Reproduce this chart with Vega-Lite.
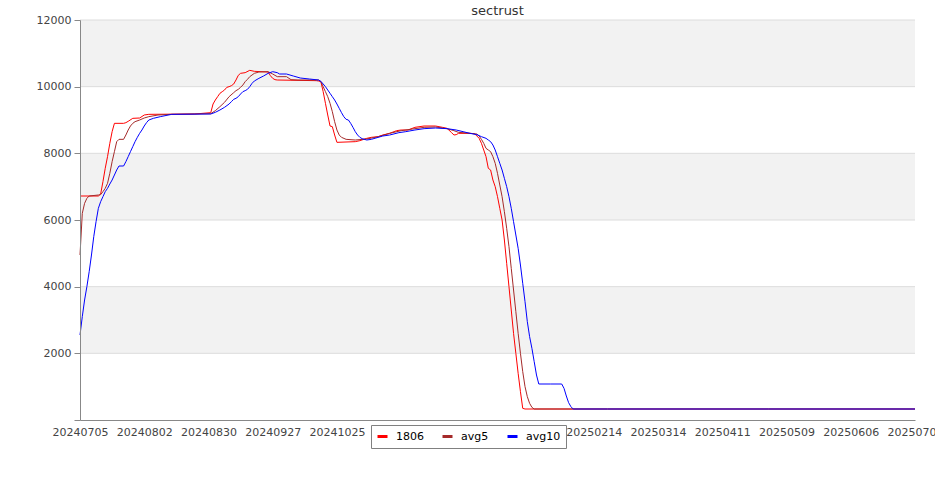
{
  "$schema": "https://vega.github.io/schema/vega-lite/v6.json",
  "width": 835,
  "height": 400,
  "autosize": {"type": "none"},
  "padding": {"left": 80, "top": 20, "right": 20, "bottom": 80},
  "background": "#ffffff",
  "title": {"text": "sectrust", "font": "DejaVu Sans", "fontSize": 13, "fontWeight": "normal", "color": "#333333", "offset": -4},
  "config": {"view": {"stroke": null}, "font": "DejaVu Sans"},
  "datasets": {
    "bands": [{"lo": 2000, "hi": 4000}, {"lo": 6000, "hi": 8000}, {"lo": 10000, "hi": 12000}],
    "grid": [{"v": 2000}, {"v": 4000}, {"v": 6000}, {"v": 8000}, {"v": 10000}, {"v": 12000}],
    "counts": [
      {"date": "2024-07-05", "series": "1806", "value": 6720},
      {"date": "2024-07-13", "series": "1806", "value": 6720},
      {"date": "2024-07-14", "series": "1806", "value": 6780},
      {"date": "2024-07-15", "series": "1806", "value": 7150},
      {"date": "2024-07-16", "series": "1806", "value": 7550},
      {"date": "2024-07-17", "series": "1806", "value": 7900},
      {"date": "2024-07-18", "series": "1806", "value": 8300},
      {"date": "2024-07-19", "series": "1806", "value": 8650},
      {"date": "2024-07-20", "series": "1806", "value": 8900},
      {"date": "2024-07-24", "series": "1806", "value": 8900},
      {"date": "2024-07-25", "series": "1806", "value": 8920},
      {"date": "2024-07-26", "series": "1806", "value": 8960},
      {"date": "2024-07-28", "series": "1806", "value": 9050},
      {"date": "2024-07-31", "series": "1806", "value": 9060},
      {"date": "2024-08-02", "series": "1806", "value": 9150},
      {"date": "2024-08-04", "series": "1806", "value": 9170},
      {"date": "2024-08-24", "series": "1806", "value": 9180},
      {"date": "2024-08-31", "series": "1806", "value": 9220},
      {"date": "2024-09-01", "series": "1806", "value": 9480},
      {"date": "2024-09-02", "series": "1806", "value": 9600},
      {"date": "2024-09-03", "series": "1806", "value": 9700},
      {"date": "2024-09-04", "series": "1806", "value": 9800},
      {"date": "2024-09-05", "series": "1806", "value": 9850},
      {"date": "2024-09-06", "series": "1806", "value": 9900},
      {"date": "2024-09-07", "series": "1806", "value": 9980},
      {"date": "2024-09-08", "series": "1806", "value": 10000},
      {"date": "2024-09-09", "series": "1806", "value": 10030},
      {"date": "2024-09-10", "series": "1806", "value": 10080},
      {"date": "2024-09-11", "series": "1806", "value": 10200},
      {"date": "2024-09-12", "series": "1806", "value": 10340},
      {"date": "2024-09-13", "series": "1806", "value": 10400},
      {"date": "2024-09-15", "series": "1806", "value": 10420},
      {"date": "2024-09-17", "series": "1806", "value": 10490},
      {"date": "2024-09-19", "series": "1806", "value": 10460},
      {"date": "2024-09-25", "series": "1806", "value": 10440},
      {"date": "2024-09-26", "series": "1806", "value": 10330},
      {"date": "2024-09-27", "series": "1806", "value": 10250},
      {"date": "2024-09-28", "series": "1806", "value": 10210},
      {"date": "2024-09-29", "series": "1806", "value": 10200},
      {"date": "2024-10-16", "series": "1806", "value": 10180},
      {"date": "2024-10-17", "series": "1806", "value": 10170},
      {"date": "2024-10-18", "series": "1806", "value": 10150},
      {"date": "2024-10-19", "series": "1806", "value": 9850},
      {"date": "2024-10-20", "series": "1806", "value": 9500},
      {"date": "2024-10-21", "series": "1806", "value": 9150},
      {"date": "2024-10-22", "series": "1806", "value": 8820},
      {"date": "2024-10-23", "series": "1806", "value": 8800},
      {"date": "2024-10-24", "series": "1806", "value": 8550},
      {"date": "2024-10-25", "series": "1806", "value": 8330},
      {"date": "2024-11-02", "series": "1806", "value": 8350},
      {"date": "2024-11-04", "series": "1806", "value": 8380},
      {"date": "2024-11-07", "series": "1806", "value": 8450},
      {"date": "2024-11-09", "series": "1806", "value": 8480},
      {"date": "2024-11-12", "series": "1806", "value": 8500},
      {"date": "2024-11-14", "series": "1806", "value": 8550},
      {"date": "2024-11-17", "series": "1806", "value": 8600},
      {"date": "2024-11-20", "series": "1806", "value": 8680},
      {"date": "2024-11-22", "series": "1806", "value": 8700},
      {"date": "2024-11-25", "series": "1806", "value": 8700},
      {"date": "2024-11-28", "series": "1806", "value": 8780},
      {"date": "2024-12-02", "series": "1806", "value": 8820},
      {"date": "2024-12-07", "series": "1806", "value": 8820},
      {"date": "2024-12-10", "series": "1806", "value": 8780},
      {"date": "2024-12-12", "series": "1806", "value": 8750},
      {"date": "2024-12-14", "series": "1806", "value": 8620},
      {"date": "2024-12-15", "series": "1806", "value": 8550},
      {"date": "2024-12-16", "series": "1806", "value": 8560},
      {"date": "2024-12-17", "series": "1806", "value": 8600},
      {"date": "2024-12-22", "series": "1806", "value": 8600},
      {"date": "2024-12-24", "series": "1806", "value": 8590},
      {"date": "2024-12-26", "series": "1806", "value": 8450},
      {"date": "2024-12-27", "series": "1806", "value": 8300},
      {"date": "2024-12-28", "series": "1806", "value": 8100},
      {"date": "2024-12-29", "series": "1806", "value": 7900},
      {"date": "2024-12-30", "series": "1806", "value": 7550},
      {"date": "2024-12-31", "series": "1806", "value": 7500},
      {"date": "2025-01-01", "series": "1806", "value": 7200},
      {"date": "2025-01-02", "series": "1806", "value": 7000},
      {"date": "2025-01-03", "series": "1806", "value": 6700},
      {"date": "2025-01-04", "series": "1806", "value": 6350},
      {"date": "2025-01-05", "series": "1806", "value": 6000},
      {"date": "2025-01-06", "series": "1806", "value": 5400},
      {"date": "2025-01-07", "series": "1806", "value": 4700},
      {"date": "2025-01-08", "series": "1806", "value": 4000},
      {"date": "2025-01-09", "series": "1806", "value": 3300},
      {"date": "2025-01-10", "series": "1806", "value": 2600},
      {"date": "2025-01-11", "series": "1806", "value": 2000},
      {"date": "2025-01-12", "series": "1806", "value": 1400},
      {"date": "2025-01-13", "series": "1806", "value": 850},
      {"date": "2025-01-14", "series": "1806", "value": 350},
      {"date": "2025-01-15", "series": "1806", "value": 330},
      {"date": "2025-02-20", "series": "1806", "value": 330},
      {"date": "2025-05-01", "series": "1806", "value": 330},
      {"date": "2025-07-04", "series": "1806", "value": 330},

      {"date": "2024-07-05", "series": "avg5", "value": 4950},
      {"date": "2024-07-06", "series": "avg5", "value": 6200},
      {"date": "2024-07-07", "series": "avg5", "value": 6500},
      {"date": "2024-07-08", "series": "avg5", "value": 6650},
      {"date": "2024-07-09", "series": "avg5", "value": 6720},
      {"date": "2024-07-13", "series": "avg5", "value": 6750},
      {"date": "2024-07-14", "series": "avg5", "value": 6760},
      {"date": "2024-07-15", "series": "avg5", "value": 6850},
      {"date": "2024-07-16", "series": "avg5", "value": 6950},
      {"date": "2024-07-17", "series": "avg5", "value": 7100},
      {"date": "2024-07-18", "series": "avg5", "value": 7400},
      {"date": "2024-07-19", "series": "avg5", "value": 7750},
      {"date": "2024-07-20", "series": "avg5", "value": 8050},
      {"date": "2024-07-21", "series": "avg5", "value": 8350},
      {"date": "2024-07-22", "series": "avg5", "value": 8420},
      {"date": "2024-07-24", "series": "avg5", "value": 8420},
      {"date": "2024-07-25", "series": "avg5", "value": 8550},
      {"date": "2024-07-26", "series": "avg5", "value": 8700},
      {"date": "2024-07-27", "series": "avg5", "value": 8820},
      {"date": "2024-07-28", "series": "avg5", "value": 8900},
      {"date": "2024-07-29", "series": "avg5", "value": 8950},
      {"date": "2024-07-31", "series": "avg5", "value": 9000},
      {"date": "2024-08-02", "series": "avg5", "value": 9060},
      {"date": "2024-08-04", "series": "avg5", "value": 9100},
      {"date": "2024-08-08", "series": "avg5", "value": 9150},
      {"date": "2024-08-14", "series": "avg5", "value": 9170},
      {"date": "2024-08-31", "series": "avg5", "value": 9190},
      {"date": "2024-09-02", "series": "avg5", "value": 9280},
      {"date": "2024-09-04", "series": "avg5", "value": 9400},
      {"date": "2024-09-06", "series": "avg5", "value": 9530},
      {"date": "2024-09-08", "series": "avg5", "value": 9700},
      {"date": "2024-09-10", "series": "avg5", "value": 9820},
      {"date": "2024-09-11", "series": "avg5", "value": 9880},
      {"date": "2024-09-12", "series": "avg5", "value": 9920},
      {"date": "2024-09-13", "series": "avg5", "value": 9980},
      {"date": "2024-09-14", "series": "avg5", "value": 10050},
      {"date": "2024-09-15", "series": "avg5", "value": 10150},
      {"date": "2024-09-16", "series": "avg5", "value": 10220},
      {"date": "2024-09-17", "series": "avg5", "value": 10300},
      {"date": "2024-09-19", "series": "avg5", "value": 10400},
      {"date": "2024-09-21", "series": "avg5", "value": 10440},
      {"date": "2024-09-25", "series": "avg5", "value": 10450},
      {"date": "2024-09-27", "series": "avg5", "value": 10380},
      {"date": "2024-09-29", "series": "avg5", "value": 10300},
      {"date": "2024-10-03", "series": "avg5", "value": 10300},
      {"date": "2024-10-05", "series": "avg5", "value": 10210},
      {"date": "2024-10-08", "series": "avg5", "value": 10200},
      {"date": "2024-10-17", "series": "avg5", "value": 10200},
      {"date": "2024-10-18", "series": "avg5", "value": 10150},
      {"date": "2024-10-19", "series": "avg5", "value": 10000},
      {"date": "2024-10-20", "series": "avg5", "value": 9850},
      {"date": "2024-10-21", "series": "avg5", "value": 9700},
      {"date": "2024-10-22", "series": "avg5", "value": 9500},
      {"date": "2024-10-23", "series": "avg5", "value": 9250},
      {"date": "2024-10-24", "series": "avg5", "value": 8950},
      {"date": "2024-10-25", "series": "avg5", "value": 8700},
      {"date": "2024-10-26", "series": "avg5", "value": 8550},
      {"date": "2024-10-27", "series": "avg5", "value": 8480},
      {"date": "2024-10-29", "series": "avg5", "value": 8420},
      {"date": "2024-11-02", "series": "avg5", "value": 8400},
      {"date": "2024-11-07", "series": "avg5", "value": 8430},
      {"date": "2024-11-12", "series": "avg5", "value": 8500},
      {"date": "2024-11-17", "series": "avg5", "value": 8600},
      {"date": "2024-11-22", "series": "avg5", "value": 8680},
      {"date": "2024-11-27", "series": "avg5", "value": 8730},
      {"date": "2024-12-02", "series": "avg5", "value": 8780},
      {"date": "2024-12-07", "series": "avg5", "value": 8790},
      {"date": "2024-12-12", "series": "avg5", "value": 8740},
      {"date": "2024-12-15", "series": "avg5", "value": 8680},
      {"date": "2024-12-17", "series": "avg5", "value": 8630},
      {"date": "2024-12-22", "series": "avg5", "value": 8600},
      {"date": "2024-12-25", "series": "avg5", "value": 8580},
      {"date": "2024-12-26", "series": "avg5", "value": 8520},
      {"date": "2024-12-27", "series": "avg5", "value": 8420},
      {"date": "2024-12-28", "series": "avg5", "value": 8300},
      {"date": "2024-12-29", "series": "avg5", "value": 8150},
      {"date": "2024-12-30", "series": "avg5", "value": 8100},
      {"date": "2024-12-31", "series": "avg5", "value": 8050},
      {"date": "2025-01-01", "series": "avg5", "value": 7900},
      {"date": "2025-01-02", "series": "avg5", "value": 7700},
      {"date": "2025-01-03", "series": "avg5", "value": 7400},
      {"date": "2025-01-04", "series": "avg5", "value": 7050},
      {"date": "2025-01-05", "series": "avg5", "value": 6700},
      {"date": "2025-01-06", "series": "avg5", "value": 6250},
      {"date": "2025-01-07", "series": "avg5", "value": 5750},
      {"date": "2025-01-08", "series": "avg5", "value": 5200},
      {"date": "2025-01-09", "series": "avg5", "value": 4550},
      {"date": "2025-01-10", "series": "avg5", "value": 3900},
      {"date": "2025-01-11", "series": "avg5", "value": 3250},
      {"date": "2025-01-12", "series": "avg5", "value": 2600},
      {"date": "2025-01-13", "series": "avg5", "value": 2000},
      {"date": "2025-01-14", "series": "avg5", "value": 1450},
      {"date": "2025-01-15", "series": "avg5", "value": 1000},
      {"date": "2025-01-16", "series": "avg5", "value": 700},
      {"date": "2025-01-17", "series": "avg5", "value": 500},
      {"date": "2025-01-18", "series": "avg5", "value": 380},
      {"date": "2025-01-19", "series": "avg5", "value": 330},
      {"date": "2025-02-20", "series": "avg5", "value": 330},
      {"date": "2025-05-01", "series": "avg5", "value": 330},
      {"date": "2025-07-04", "series": "avg5", "value": 330},

      {"date": "2024-07-05", "series": "avg10", "value": 2550},
      {"date": "2024-07-06", "series": "avg10", "value": 3100},
      {"date": "2024-07-07", "series": "avg10", "value": 3600},
      {"date": "2024-07-08", "series": "avg10", "value": 4000},
      {"date": "2024-07-09", "series": "avg10", "value": 4450},
      {"date": "2024-07-10", "series": "avg10", "value": 4950},
      {"date": "2024-07-11", "series": "avg10", "value": 5500},
      {"date": "2024-07-12", "series": "avg10", "value": 5950},
      {"date": "2024-07-13", "series": "avg10", "value": 6350},
      {"date": "2024-07-14", "series": "avg10", "value": 6550},
      {"date": "2024-07-15", "series": "avg10", "value": 6700},
      {"date": "2024-07-16", "series": "avg10", "value": 6850},
      {"date": "2024-07-17", "series": "avg10", "value": 6950},
      {"date": "2024-07-18", "series": "avg10", "value": 7080},
      {"date": "2024-07-19", "series": "avg10", "value": 7200},
      {"date": "2024-07-20", "series": "avg10", "value": 7350},
      {"date": "2024-07-21", "series": "avg10", "value": 7500},
      {"date": "2024-07-22", "series": "avg10", "value": 7620},
      {"date": "2024-07-24", "series": "avg10", "value": 7620},
      {"date": "2024-07-25", "series": "avg10", "value": 7750},
      {"date": "2024-07-26", "series": "avg10", "value": 7900},
      {"date": "2024-07-27", "series": "avg10", "value": 8050},
      {"date": "2024-07-28", "series": "avg10", "value": 8200},
      {"date": "2024-07-29", "series": "avg10", "value": 8350},
      {"date": "2024-07-30", "series": "avg10", "value": 8480},
      {"date": "2024-07-31", "series": "avg10", "value": 8600},
      {"date": "2024-08-01", "series": "avg10", "value": 8700},
      {"date": "2024-08-02", "series": "avg10", "value": 8820},
      {"date": "2024-08-03", "series": "avg10", "value": 8920},
      {"date": "2024-08-04", "series": "avg10", "value": 9000},
      {"date": "2024-08-06", "series": "avg10", "value": 9050},
      {"date": "2024-08-09", "series": "avg10", "value": 9100},
      {"date": "2024-08-14", "series": "avg10", "value": 9170},
      {"date": "2024-08-31", "series": "avg10", "value": 9180},
      {"date": "2024-09-02", "series": "avg10", "value": 9230},
      {"date": "2024-09-04", "series": "avg10", "value": 9300},
      {"date": "2024-09-06", "series": "avg10", "value": 9380},
      {"date": "2024-09-08", "series": "avg10", "value": 9480},
      {"date": "2024-09-09", "series": "avg10", "value": 9550},
      {"date": "2024-09-10", "series": "avg10", "value": 9620},
      {"date": "2024-09-11", "series": "avg10", "value": 9650},
      {"date": "2024-09-12", "series": "avg10", "value": 9700},
      {"date": "2024-09-13", "series": "avg10", "value": 9780},
      {"date": "2024-09-14", "series": "avg10", "value": 9850},
      {"date": "2024-09-15", "series": "avg10", "value": 9880},
      {"date": "2024-09-16", "series": "avg10", "value": 9920},
      {"date": "2024-09-17", "series": "avg10", "value": 10000},
      {"date": "2024-09-18", "series": "avg10", "value": 10100},
      {"date": "2024-09-19", "series": "avg10", "value": 10170},
      {"date": "2024-09-21", "series": "avg10", "value": 10250},
      {"date": "2024-09-23", "series": "avg10", "value": 10320},
      {"date": "2024-09-25", "series": "avg10", "value": 10400},
      {"date": "2024-09-27", "series": "avg10", "value": 10450},
      {"date": "2024-09-29", "series": "avg10", "value": 10420},
      {"date": "2024-09-30", "series": "avg10", "value": 10380},
      {"date": "2024-10-03", "series": "avg10", "value": 10380},
      {"date": "2024-10-06", "series": "avg10", "value": 10320},
      {"date": "2024-10-09", "series": "avg10", "value": 10260},
      {"date": "2024-10-13", "series": "avg10", "value": 10230},
      {"date": "2024-10-17", "series": "avg10", "value": 10200},
      {"date": "2024-10-18", "series": "avg10", "value": 10160},
      {"date": "2024-10-19", "series": "avg10", "value": 10080},
      {"date": "2024-10-20", "series": "avg10", "value": 10000},
      {"date": "2024-10-21", "series": "avg10", "value": 9900},
      {"date": "2024-10-22", "series": "avg10", "value": 9800},
      {"date": "2024-10-23", "series": "avg10", "value": 9700},
      {"date": "2024-10-24", "series": "avg10", "value": 9600},
      {"date": "2024-10-25", "series": "avg10", "value": 9480},
      {"date": "2024-10-26", "series": "avg10", "value": 9350},
      {"date": "2024-10-27", "series": "avg10", "value": 9220},
      {"date": "2024-10-28", "series": "avg10", "value": 9100},
      {"date": "2024-10-29", "series": "avg10", "value": 9020},
      {"date": "2024-10-30", "series": "avg10", "value": 9000},
      {"date": "2024-10-31", "series": "avg10", "value": 8900},
      {"date": "2024-11-01", "series": "avg10", "value": 8780},
      {"date": "2024-11-02", "series": "avg10", "value": 8650},
      {"date": "2024-11-03", "series": "avg10", "value": 8550},
      {"date": "2024-11-04", "series": "avg10", "value": 8480},
      {"date": "2024-11-05", "series": "avg10", "value": 8440},
      {"date": "2024-11-07", "series": "avg10", "value": 8400},
      {"date": "2024-11-09", "series": "avg10", "value": 8420},
      {"date": "2024-11-11", "series": "avg10", "value": 8460},
      {"date": "2024-11-14", "series": "avg10", "value": 8520},
      {"date": "2024-11-17", "series": "avg10", "value": 8550},
      {"date": "2024-11-21", "series": "avg10", "value": 8620},
      {"date": "2024-11-24", "series": "avg10", "value": 8650},
      {"date": "2024-11-28", "series": "avg10", "value": 8700},
      {"date": "2024-12-02", "series": "avg10", "value": 8740},
      {"date": "2024-12-07", "series": "avg10", "value": 8760},
      {"date": "2024-12-12", "series": "avg10", "value": 8740},
      {"date": "2024-12-16", "series": "avg10", "value": 8700},
      {"date": "2024-12-19", "series": "avg10", "value": 8650},
      {"date": "2024-12-22", "series": "avg10", "value": 8600},
      {"date": "2024-12-25", "series": "avg10", "value": 8560},
      {"date": "2024-12-27", "series": "avg10", "value": 8500},
      {"date": "2024-12-29", "series": "avg10", "value": 8450},
      {"date": "2024-12-30", "series": "avg10", "value": 8400},
      {"date": "2024-12-31", "series": "avg10", "value": 8350},
      {"date": "2025-01-01", "series": "avg10", "value": 8250},
      {"date": "2025-01-02", "series": "avg10", "value": 8100},
      {"date": "2025-01-03", "series": "avg10", "value": 7900},
      {"date": "2025-01-04", "series": "avg10", "value": 7700},
      {"date": "2025-01-05", "series": "avg10", "value": 7500},
      {"date": "2025-01-06", "series": "avg10", "value": 7250},
      {"date": "2025-01-07", "series": "avg10", "value": 7000},
      {"date": "2025-01-08", "series": "avg10", "value": 6700},
      {"date": "2025-01-09", "series": "avg10", "value": 6350},
      {"date": "2025-01-10", "series": "avg10", "value": 5950},
      {"date": "2025-01-11", "series": "avg10", "value": 5550},
      {"date": "2025-01-12", "series": "avg10", "value": 5150},
      {"date": "2025-01-13", "series": "avg10", "value": 4650},
      {"date": "2025-01-14", "series": "avg10", "value": 4100},
      {"date": "2025-01-15", "series": "avg10", "value": 3550},
      {"date": "2025-01-16", "series": "avg10", "value": 2950},
      {"date": "2025-01-17", "series": "avg10", "value": 2500},
      {"date": "2025-01-18", "series": "avg10", "value": 2150},
      {"date": "2025-01-19", "series": "avg10", "value": 1750},
      {"date": "2025-01-20", "series": "avg10", "value": 1350},
      {"date": "2025-01-21", "series": "avg10", "value": 1080},
      {"date": "2025-01-26", "series": "avg10", "value": 1080},
      {"date": "2025-01-31", "series": "avg10", "value": 1080},
      {"date": "2025-02-01", "series": "avg10", "value": 950},
      {"date": "2025-02-02", "series": "avg10", "value": 720},
      {"date": "2025-02-03", "series": "avg10", "value": 520},
      {"date": "2025-02-04", "series": "avg10", "value": 400},
      {"date": "2025-02-05", "series": "avg10", "value": 330},
      {"date": "2025-02-20", "series": "avg10", "value": 330},
      {"date": "2025-05-01", "series": "avg10", "value": 330},
      {"date": "2025-07-04", "series": "avg10", "value": 330}
    ]
  },
  "layer": [
    {
      "data": {"name": "bands"},
      "mark": {"type": "rect", "color": "#f2f2f2"},
      "encoding": {
        "y": {
          "field": "lo",
          "type": "quantitative",
          "scale": {"domain": [0, 12000], "nice": false, "zero": true},
          "axis": {
            "title": null,
            "values": [0, 1000, 2000, 3000, 4000, 5000, 6000, 7000, 8000, 9000, 10000, 11000, 12000],
            "format": "d",
            "labelExpr": "datum.value > 0 && datum.value % 2000 == 0 ? datum.label : ''",
            "grid": false,
            "domainColor": "#888888",
            "tickColor": "#888888",
            "tickSize": {"condition": {"test": "datum.value % 2000 == 0", "value": 6}, "value": 3},
            "labelFont": "DejaVu Sans",
            "labelFontSize": 11,
            "labelColor": "#444444",
            "labelPadding": 3,
            "labelOverlap": false,
            "zindex": 1
          }
        },
        "y2": {"field": "hi"}
      }
    },
    {
      "data": {"name": "grid"},
      "mark": {"type": "rule", "color": "#dcdcdc", "strokeWidth": 1},
      "encoding": {"y": {"field": "v", "type": "quantitative"}}
    },
    {
      "data": {"name": "counts"},
      "mark": {"type": "line", "strokeWidth": 1, "interpolate": "linear"},
      "encoding": {
        "x": {
          "field": "date",
          "type": "temporal",
          "scale": {
            "type": "utc",
            "domain": [
              {"year": 2024, "month": 7, "date": 5, "utc": true},
              {"year": 2025, "month": 7, "date": 4, "utc": true}
            ]
          },
          "axis": {
            "title": null,
            "values": [
              {"year": 2024, "month": 7, "date": 5, "utc": true},
              {"year": 2024, "month": 8, "date": 2, "utc": true},
              {"year": 2024, "month": 8, "date": 30, "utc": true},
              {"year": 2024, "month": 9, "date": 27, "utc": true},
              {"year": 2024, "month": 10, "date": 25, "utc": true},
              {"year": 2024, "month": 11, "date": 22, "utc": true},
              {"year": 2024, "month": 12, "date": 20, "utc": true},
              {"year": 2025, "month": 1, "date": 17, "utc": true},
              {"year": 2025, "month": 2, "date": 14, "utc": true},
              {"year": 2025, "month": 3, "date": 14, "utc": true},
              {"year": 2025, "month": 4, "date": 11, "utc": true},
              {"year": 2025, "month": 5, "date": 9, "utc": true},
              {"year": 2025, "month": 6, "date": 6, "utc": true},
              {"year": 2025, "month": 7, "date": 4, "utc": true}
            ],
            "format": "%Y%m%d",
            "ticks": false,
            "grid": false,
            "domainColor": "#888888",
            "labelFont": "DejaVu Sans",
            "labelFontSize": 11,
            "labelColor": "#444444",
            "labelPadding": 6,
            "labelOverlap": false,
            "labelFlush": false,
            "labelBound": false,
            "zindex": 1
          }
        },
        "y": {"field": "value", "type": "quantitative"},
        "color": {
          "field": "series",
          "type": "nominal",
          "scale": {"domain": ["1806", "avg5", "avg10"], "range": ["#ff0000", "#a52a2a", "#0000ff"]},
          "legend": {
            "title": null,
            "orient": "none",
            "legendX": 291,
            "legendY": 405,
            "direction": "horizontal",
            "symbolType": "stroke",
            "symbolStrokeWidth": 3,
            "symbolSize": 100,
            "labelFont": "DejaVu Sans",
            "labelFontSize": 11,
            "labelColor": "#000000",
            "labelOffset": 7,
            "columnPadding": 12,
            "gridAlign": "none",
            "strokeColor": "#808080",
            "fillColor": "#ffffff",
            "padding": 5,
            "zindex": 2
          }
        }
      }
    }
  ]
}
